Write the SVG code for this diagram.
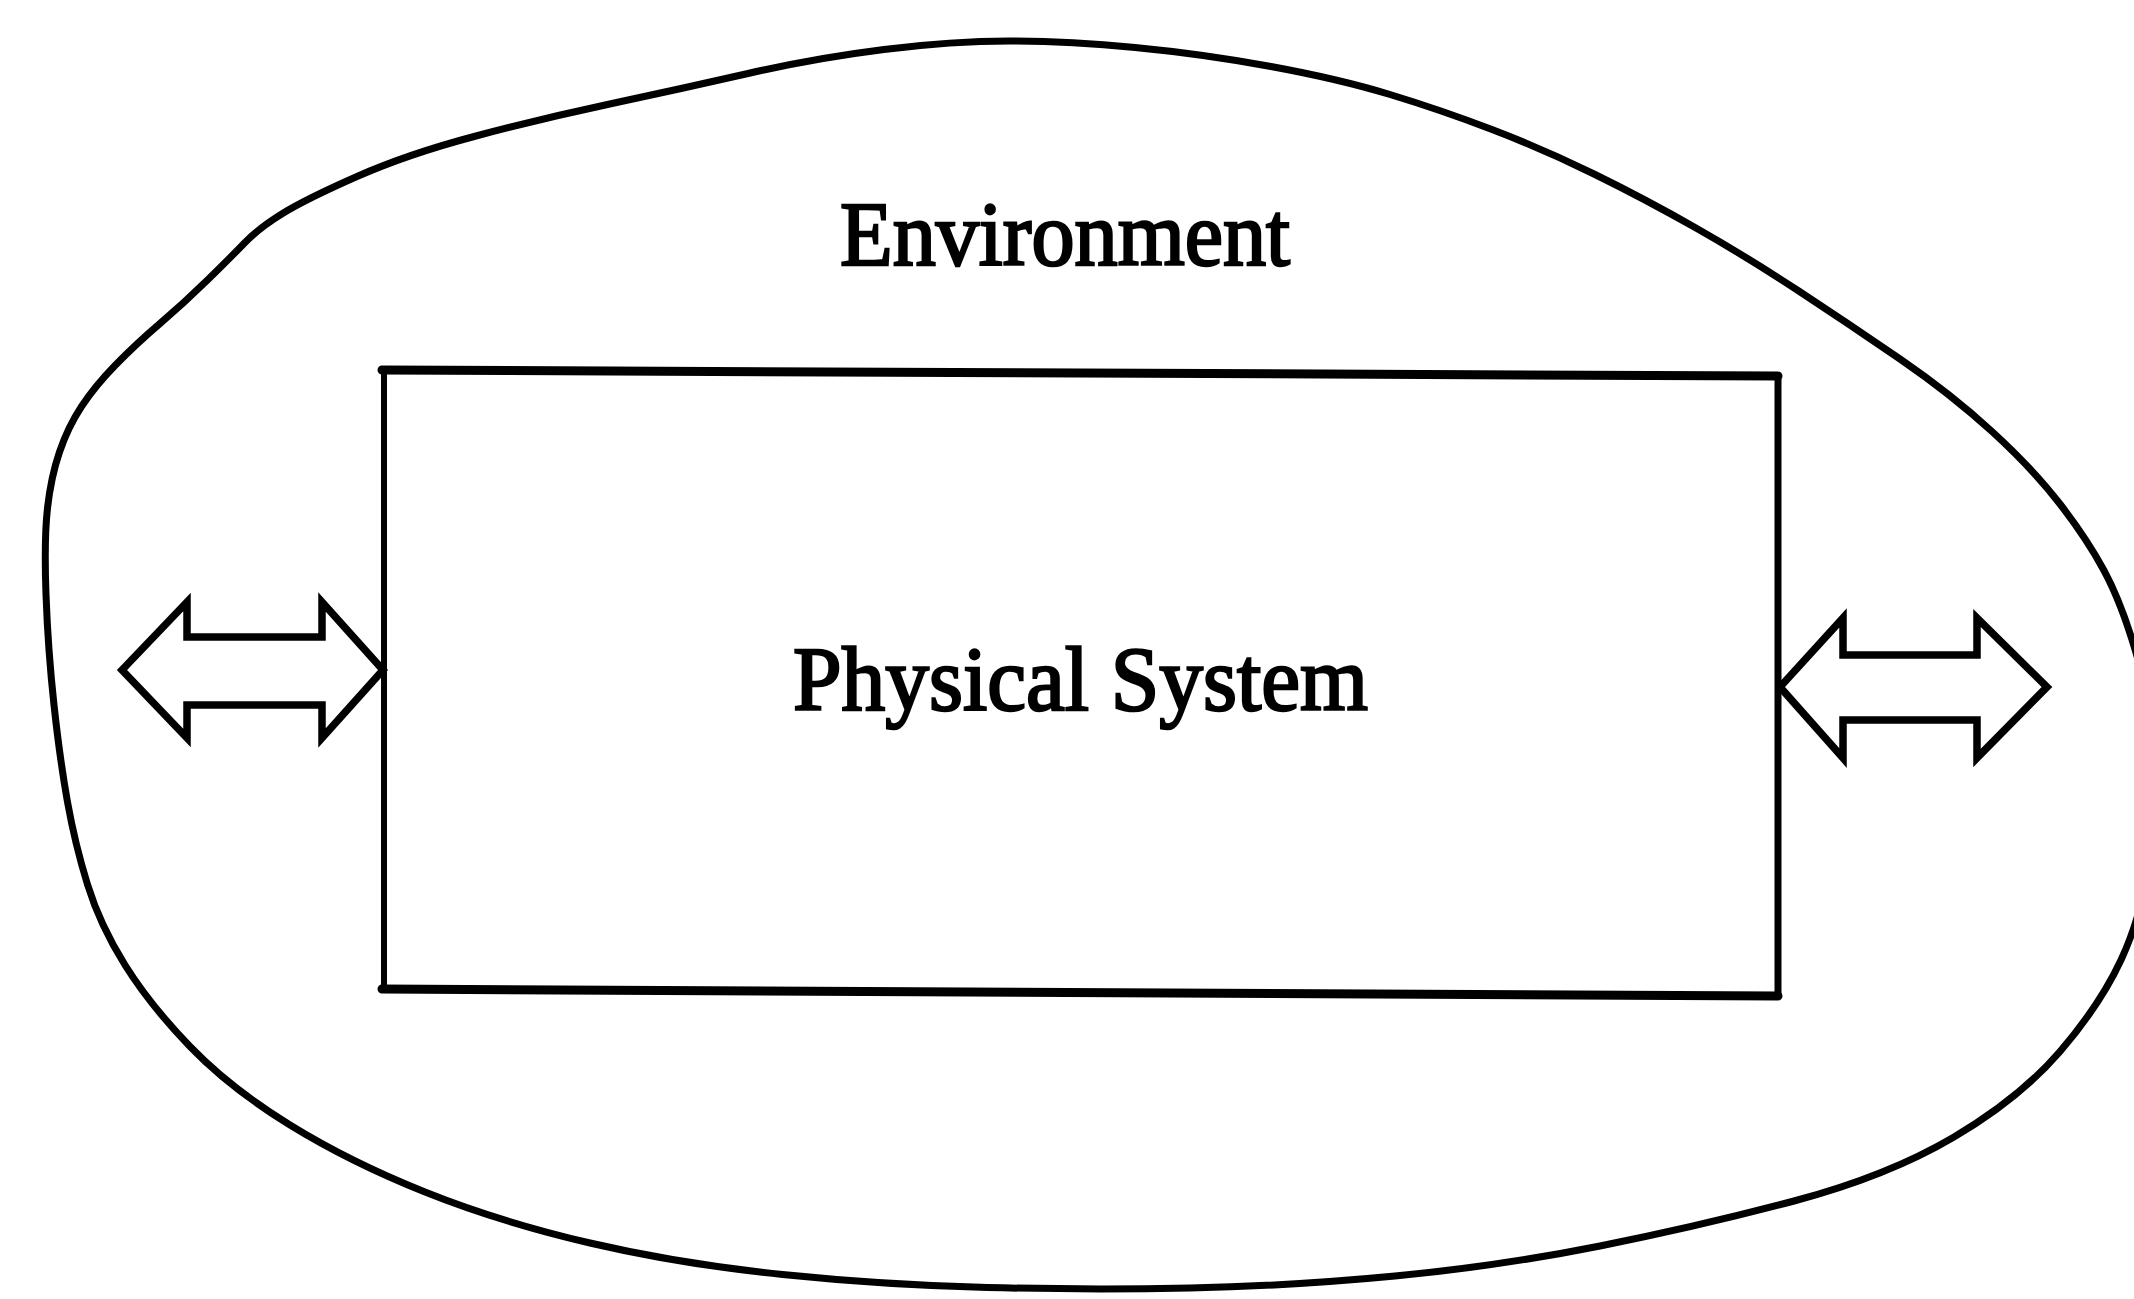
<svg xmlns="http://www.w3.org/2000/svg" width="2134" height="1299" viewBox="0 0 2134 1299">
  <style>
    .ink { fill: none; stroke: #000; stroke-linejoin: round; stroke-linecap: round; }
    .label { font-family: "Liberation Serif", "Times New Roman", serif; font-size: 90px; fill: #000; stroke: #000; stroke-width: 2.5; }
    .arrow { fill: #fff; stroke: #000; stroke-width: 7.5; stroke-linejoin: miter; }
  </style>
  <rect x="0" y="0" width="2134" height="1299" fill="#fff"/>

  <!-- Environment: freehand closed outline with its label -->
  <g id="environment">
    <path class="ink" stroke-width="7" d="M 1135 47.5 Q 1203 54 1271 66.5 Q 1339 79 1390 94.5 Q 1441 110 1492 129.5 Q 1543 149 1594 174 Q 1645 199 1696 228 Q 1747 257 1798 290.5 Q 1849 324 1900 359 Q 1951 394 1992 431.5 Q 2033 469 2060 504 Q 2087 539 2104 570.5 Q 2121 602 2135.5 651 Q 2150 700 2154 750 Q 2158 800 2150 857.5 Q 2142 915 2121 960 Q 2100 1005 2060 1051.5 Q 2020 1098 1954 1137 Q 1888 1176 1794 1201 Q 1700 1226 1600 1246 Q 1500 1266 1395 1276 Q 1290 1286 1190 1288 Q 1090 1290 987.5 1287.5 Q 885 1285 782.5 1274.5 Q 680 1264 590 1243 Q 500 1222 425 1192 Q 350 1162 290 1125 Q 230 1088 190 1046.5 Q 150 1005 125 965 Q 100 925 87.5 884.5 Q 75 844 67.5 802 Q 60 760 54 705 Q 48 650 46 594.5 Q 44 539 47.5 508 Q 51 477 59.5 452 Q 68 427 81.5 406.5 Q 95 386 115.5 365 Q 136 344 160 323.5 Q 184 303 207.5 280 Q 231 257 245 242.5 Q 259 228 282.5 213.5 Q 306 199 357 176.5 Q 408 154 476 136 Q 544 118 612 103.5 Q 680 89 748 73.5 Q 816 58 884 49.5 Q 952 41 1009.5 41 Q 1067 41 1135 47.5 Z"/>
    <text class="label" x="840" y="265" textLength="450" lengthAdjust="spacingAndGlyphs">Environment</text>
  </g>

  <!-- Physical system box -->
  <g id="physical-system">
    <line class="ink" x1="382" y1="370" x2="1778" y2="376" stroke-width="9"/>
    <line class="ink" x1="382" y1="989" x2="1778" y2="996" stroke-width="9"/>
    <line class="ink" x1="384" y1="370" x2="384" y2="989" stroke-width="6"/>
    <line class="ink" x1="1778" y1="376" x2="1778" y2="996" stroke-width="7"/>
    <text class="label" x="793" y="710" textLength="575" lengthAdjust="spacingAndGlyphs">Physical System</text>
  </g>

  <!-- Two-way exchange arrows between system and environment -->
  <g id="connectors">
    <polygon class="arrow" points="122,670 187,602 187,637 322,637 322,602 383,670 322,738 322,705 187,705 187,738"/>
    <polygon class="arrow" points="1780,687 1843,618 1843,655 1977,655 1977,618 2047,687 1977,758 1977,720 1843,720 1843,758"/>
  </g>
</svg>
